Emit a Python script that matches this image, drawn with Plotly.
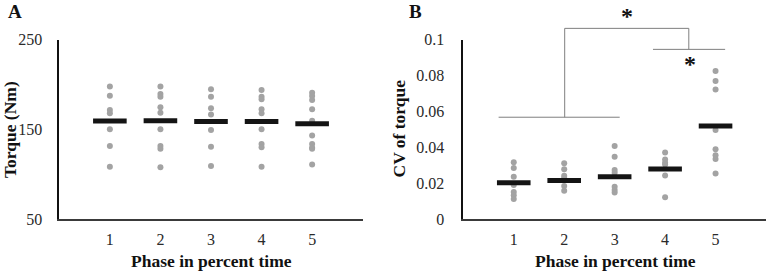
import plotly.graph_objects as go

# ---------------- data ----------------
phases = [1, 2, 3, 4, 5]
phase_labels = ["1", "2", "3", "4", "5"]

torque_p1 = [197.5, 187.4, 171.5, 167.8, 150.0, 131.4, 108.3]
torque_p2 = [197.5, 189.3, 186.3, 174.4, 168.5, 150.0, 131.4, 128.4, 107.6]
torque_p3 = [194.5, 186.3, 173.3, 166.3, 149.2, 130.6, 109.1]
torque_p4 = [193.7, 186.3, 183.4, 172.2, 167.8, 150.0, 133.6, 129.9, 108.3]
torque_p5 = [190.8, 187.1, 182.6, 172.2, 159.6, 142.9, 133.6, 129.5, 128.4, 110.6]
torque_mean = [159.2, 159.6, 158.5, 158.5, 156.2]

cv_p1 = [0.0316, 0.0284, 0.0236, 0.0190, 0.0150, 0.0132, 0.0111]
cv_p2 = [0.0310, 0.0277, 0.0241, 0.0228, 0.0184, 0.0158]
cv_p3 = [0.0407, 0.0347, 0.0273, 0.0258, 0.0180, 0.0162, 0.0147]
cv_p4 = [0.0370, 0.0332, 0.0314, 0.0303, 0.0243, 0.0121]
cv_p5 = [0.0825, 0.0769, 0.0722, 0.0496, 0.0388, 0.0355, 0.0334, 0.0253]
cv_mean = [0.0202, 0.0215, 0.0236, 0.0279, 0.0518]

torque_ticks = [50, 150, 250]
cv_ticks = [0, 0.02, 0.04, 0.06, 0.08, 0.1]
cv_tick_labels = ["0", "0.02", "0.04", "0.06", "0.08", "0.1"]

# significance brackets (phase units, CV units)
bracket_x = [0.70, 3.10, None, 2.01, 2.01, 4.47, 4.47, None, 3.76, 5.19]
bracket_y = [0.0567, 0.0567, None, 0.0567, 0.1062, 0.1062, 0.0945, None, 0.0945, 0.0945]
star_x = [3.24, 4.49]
star_y = [0.1142, 0.0875]

# ---------------- figure ----------------
SERIF = "Liberation Serif, Times New Roman, serif"
DOT = "#a3a3a3"
BAR = "#141414"

fig = go.Figure()

torque_groups = [torque_p1, torque_p2, torque_p3, torque_p4, torque_p5]
cv_groups = [cv_p1, cv_p2, cv_p3, cv_p4, cv_p5]

# brackets drawn on an invisible axis pair that shares panel B's scale but extends higher
fig.add_trace(go.Scatter(x=bracket_x, y=bracket_y, mode="lines",
                         line=dict(color="#7f7f7f", width=1),
                         xaxis="x3", yaxis="y3", showlegend=False, hoverinfo="skip"))

for ph, vals in zip(phases, torque_groups):
    fig.add_trace(go.Scatter(x=[ph] * len(vals), y=vals, mode="markers",
                             marker=dict(color=DOT, size=6), xaxis="x", yaxis="y",
                             showlegend=False, hoverinfo="y"))
fig.add_trace(go.Scatter(x=phases, y=torque_mean, mode="markers",
                         marker=dict(symbol="line-ew", size=24,
                                     line=dict(color=BAR, width=5)),
                         xaxis="x", yaxis="y", showlegend=False))

for ph, vals in zip(phases, cv_groups):
    fig.add_trace(go.Scatter(x=[ph] * len(vals), y=vals, mode="markers",
                             marker=dict(color=DOT, size=6), xaxis="x2", yaxis="y2",
                             showlegend=False, hoverinfo="y"))
fig.add_trace(go.Scatter(x=phases, y=cv_mean, mode="markers",
                         marker=dict(symbol="line-ew", size=24,
                                     line=dict(color=BAR, width=5)),
                         xaxis="x2", yaxis="y2", showlegend=False))

W, H = 768, 273
ybot = (H - 219) / H
ytop = (H - 39.5) / H
px_per_unit = (219 - 39.5) / 0.1
y3_top_val = 0.12
y3_top = (H - 219 + y3_top_val * px_per_unit) / H

axis_common = dict(showgrid=False, zeroline=False, ticks="", automargin=False,
                   tickfont=dict(family=SERIF, size=16, color="#2a2a2a"))

fig.update_layout(
    width=W, height=H, autosize=False,
    margin=dict(l=0, r=0, t=0, b=0, pad=0, autoexpand=False),
    paper_bgcolor="white", plot_bgcolor="rgba(0,0,0,0)",
    showlegend=False,
    xaxis=dict(domain=[59.3 / W, 362.7 / W], range=[0, 6], tickvals=phases,
               ticktext=phase_labels, showline=True, linecolor="#3a3a3a",
               linewidth=1.5, anchor="y", ticklabelstandoff=5, **axis_common),
    yaxis=dict(domain=[ybot, ytop], range=[50, 250], tickvals=torque_ticks,
               showline=True, linecolor="#111111", linewidth=1.5, anchor="x",
               ticklabelstandoff=12, **axis_common),
    xaxis2=dict(domain=[463.3 / W, 766 / W], range=[0, 6], tickvals=phases,
                ticktext=phase_labels, showline=True, linecolor="#3a3a3a",
                linewidth=1.5, anchor="y2", ticklabelstandoff=5, **axis_common),
    yaxis2=dict(domain=[ybot, ytop], range=[0, 0.1], tickvals=cv_ticks,
                ticktext=cv_tick_labels, showline=True, linecolor="#111111",
                linewidth=1.5, anchor="x2", ticklabelstandoff=14, **axis_common),
    xaxis3=dict(domain=[463.3 / W, 766 / W], range=[0, 6], visible=False,
                anchor="y3", automargin=False),
    yaxis3=dict(domain=[ybot, y3_top], range=[0, y3_top_val], visible=False,
                anchor="x3", automargin=False),
)

title_font = dict(family=SERIF, size=17.5, color="#111111")
star_font = dict(family=SERIF, size=24, color="#111111")
letter_font = dict(family=SERIF, size=19, color="#111")
ann = [
    dict(text="<b>A</b>", x=15 / W, y=1, xref="paper", yref="paper",
         font=letter_font, yanchor="top", borderpad=0),
    dict(text="<b>B</b>", x=415 / W, y=1, xref="paper", yref="paper",
         font=letter_font, yanchor="top", borderpad=0),
    dict(text="<b>Torque (Nm)</b>", x=9.5 / W, y=(H - 129.5) / H, textangle=-90,
         xref="paper", yref="paper", font=title_font),
    dict(text="<b>CV of torque</b>", x=398.5 / W, y=(H - 129) / H, textangle=-90,
         xref="paper", yref="paper", font=title_font),
    dict(text="<b>Phase in percent time</b>", x=211.5 / W, y=(H - 261) / H,
         xref="paper", yref="paper", font=title_font),
    dict(text="<b>Phase in percent time</b>", x=615.7 / W, y=(H - 261) / H,
         xref="paper", yref="paper", font=title_font),
]
for sx, sy in zip(star_x, star_y):
    ann.append(dict(text="<b>*</b>", x=sx, y=sy, xref="x3", yref="y3", font=star_font,
                    yshift=-2))
for a in ann:
    a.setdefault("yanchor", "middle")
    a.update(showarrow=False, xanchor="center")
fig.update_layout(annotations=ann)

fig.write_html("out.html", config={"displayModeBar": False},
               post_script="document.body.style.margin='0';document.body.style.padding='0';")
